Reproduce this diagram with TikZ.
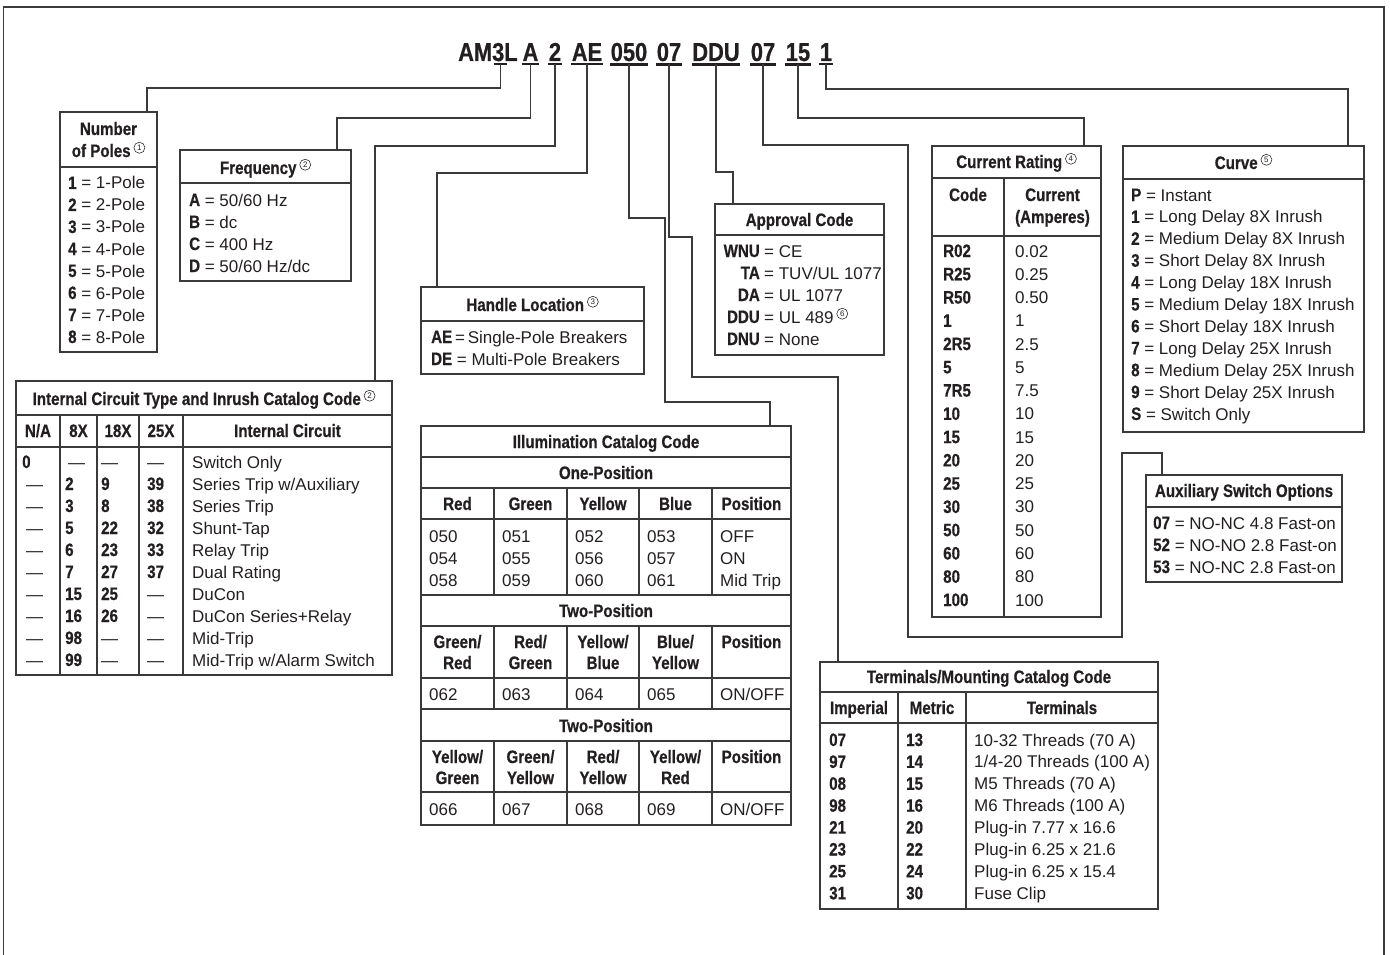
\documentclass[tikz,border=0pt]{standalone}
\usepackage{fontspec}
\setmainfont{Liberation Sans}
\newfontfamily\cf[FakeStretch=0.84,FakeBold=0.6]{Liberation Sans}
\newcommand\B[1]{{\cf\bfseries\fontsize{18}{20}\selectfont #1}}
\definecolor{ink}{HTML}{231F20}
\definecolor{lc}{HTML}{3A3A3A}
\newcommand\cn[1]{\,\tikz[x=1pt,y=1pt,baseline=-6.5pt]\node[circle,draw=ink,line width=0.55pt,inner sep=1.1pt,minimum size=11pt,text=ink,font=\rmfamily\mdseries\fontsize{8}{8}\selectfont] at (0,0) {#1};}
\tikzset{
 box/.style={draw=lc, line width=1.6pt, inner sep=0pt},
 rule/.style={draw=lc, line width=1.6pt},
 conn/.style={draw=lc, line width=1.6pt},
 uline/.style={draw=ink, line width=2.4pt},
 txt/.style={inner sep=0pt, anchor=base west, font=\fontsize{17}{20}\selectfont, text=ink},
 txtr/.style={txt, anchor=base east},
 ttl/.style={inner sep=0pt, anchor=base, font=\cf\bfseries\fontsize{18}{20}\selectfont, text=ink},
 code/.style={inner xsep=0.5pt, inner ysep=3pt, anchor=base, font=\cf\bfseries\fontsize{26}{28}\selectfont, text=ink},
}
\begin{document}
\begin{tikzpicture}[x=1pt,y=-1pt]
\useasboundingbox (0,0) rectangle (1390,955);
% frame
\draw[rule] (3.5,955) -- (3.5,7) -- (1384,7) -- (1384,955);

% ---- catalog code ----
\node[code, anchor=base west, inner sep=0pt] (cAML) at (458,61) {AM3L};
\coordinate (c3s) at (500.5,64);
\draw[uline] (494,64) -- (507,64);
\node[code] (cA) at (530.5,61) {A};
\node[code] (c2) at (555,61) {2};
\node[code] (cAE) at (587,61) {AE};
\node[code] (c050) at (629,61) {050};
\node[code] (c07a) at (669,61) {07};
\node[code] (cDDU) at (716,61) {DDU};
\node[code] (c07b) at (763,61) {07};
\node[code] (c15) at (798,61) {15};
\node[code] (c1) at (826,61) {1};
\foreach \n in {cA,c2,cAE,c050,c07a,cDDU,c07b,c15,c1}
  \draw[uline] (\n.south west) -- (\n.south east);

% ---- boxes ----
\node[box, minimum width=97pt, minimum height=240pt] (poles) at (108.5,232) {};
\node[box, minimum width=171pt, minimum height=131pt] (freq) at (265.5,215.5) {};
\node[box, minimum width=376pt, minimum height=294pt] (ict) at (204,528) {};
\node[box, minimum width=223pt, minimum height=87pt] (handle) at (532.5,330.5) {};
\node[box, minimum width=169pt, minimum height=151pt] (appr) at (799.5,279.5) {};
\node[box, minimum width=370pt, minimum height=399pt] (illum) at (606,625.5) {};
\node[box, minimum width=169pt, minimum height=471pt] (cur) at (1016.5,381.5) {};
\node[box, minimum width=241pt, minimum height=286pt] (curve) at (1243.5,289) {};
\node[box, minimum width=196pt, minimum height=107pt] (aux) at (1244,528.5) {};
\node[box, minimum width=338pt, minimum height=247pt] (term) at (989,785.5) {};

% ---- connectors ----
\coordinate (j1) at (147,88);
\coordinate (j2) at (337,118);
\coordinate (j3) at (375,146);
\coordinate (j4) at (437,173);
\coordinate (j5a) at (665,218);
\coordinate (j5b) at (770,402);
\coordinate (j6a) at (692,237);
\coordinate (j6b) at (838,377);
\coordinate (j7) at (733,172);
\coordinate (j8a) at (908,145);
\coordinate (j8b) at (1122,637);
\coordinate (j8c) at (1162,453);
\coordinate (j9) at (1084,118);
\coordinate (j10) at (1348,89);
\draw[conn] (c3s) |- (j1) -- (poles.north -| j1);
\draw[conn] (cA.south) |- (j2) -- (freq.north -| j2);
\draw[conn] (c2.south) |- (j3) -- (ict.north -| j3);
\draw[conn] (cAE.south) |- (j4) -- (handle.north -| j4);
\draw[conn] (c050.south) |- (j5a) |- (j5b) -- (illum.north -| j5b);
\draw[conn] (c07a.south) |- (j6a) |- (j6b) -- (term.north -| j6b);
\draw[conn] (cDDU.south) |- (j7) -- (appr.north -| j7);
\draw[conn] (c07b.south) |- (j8a) |- (j8b) |- (j8c) -- (aux.north -| j8c);
\draw[conn] (c15.south) |- (j9) -- (cur.north -| j9);
\draw[conn] (c1.south) |- (j10) -- (curve.north -| j10);

% ---- Number of Poles ----
\draw[rule] (60,167) -- (157,167);
\node[ttl] (npt1) at (108.5,135) {Number};
\node[ttl] (npt2) at (108.5,157) {of Poles\cn{1}};
\foreach \i in {1,...,8}
  \node[txt] (np\i) at (68,{167+22*\i}) {\B{\i} = \i-Pole};

% ---- Frequency ----
\draw[rule] (180,183) -- (351,183);
\node[ttl] (frt) at (265.5,174) {Frequency\cn{2}};
\foreach \k/\v [count=\i from 0] in {A/{50/60 Hz},B/dc,C/{400 Hz},D/{50/60 Hz/dc}}
  \node[txt] (fr\i) at (189,{206+22*\i}) {\B{\k} = \v};

% ---- Internal circuit ----
\draw[rule] (16,415) -- (392,415);
\draw[rule] (16,447) -- (392,447);
\foreach \x in {60,97,139,183} \draw[rule] (\x,415) -- (\x,675);
\node[ttl] (ictt) at (204,405) {Internal Circuit Type and Inrush Catalog Code\cn{2}};
\node[ttl] (ich1) at (38,437) {N/A};
\node[ttl] (ich2) at (78.5,437) {8X};
\node[ttl] (ich3) at (118,437) {18X};
\node[ttl] (ich4) at (161,437) {25X};
\node[ttl] (ich5) at (287.5,437) {Internal Circuit};
\node[txt] (ic0a) at (22,468) {\B{0}};
\node[txt] (ic0b) at (68,468) {—};
\node[txt] (ic0c) at (101,468) {—};
\node[txt] (ic0d) at (147,468) {—};
\node[txt] (ic0e) at (192,468) {Switch Only};
\foreach \b/\c/\d/\e [count=\i] in {
  {\B{2}}/{\B{9}}/{\B{39}}/{Series Trip w/Auxiliary},
  {\B{3}}/{\B{8}}/{\B{38}}/{Series Trip},
  {\B{5}}/{\B{22}}/{\B{32}}/{Shunt-Tap},
  {\B{6}}/{\B{23}}/{\B{33}}/{Relay Trip},
  {\B{7}}/{\B{27}}/{\B{37}}/{Dual Rating},
  {\B{15}}/{\B{25}}/—/{DuCon},
  {\B{16}}/{\B{26}}/—/{DuCon Series+Relay},
  {\B{98}}/—/—/{Mid-Trip},
  {\B{99}}/—/—/{Mid-Trip w/Alarm Switch}}{
  \node[txt] (ic\i a) at (26,{468+22*\i}) {—};
  \node[txt] (ic\i b) at (65,{468+22*\i}) {\b};
  \node[txt] (ic\i c) at (101,{468+22*\i}) {\c};
  \node[txt] (ic\i d) at (147,{468+22*\i}) {\d};
  \node[txt] (ic\i e) at (192,{468+22*\i}) {\e};
}

% ---- Handle Location ----
\draw[rule] (421,321) -- (644,321);
\node[ttl] (hlt) at (532.5,311) {Handle Location\cn{3}};
\node[txt] (hl1) at (431,343) {\B{AE}\,=\,Single-Pole Breakers};
\node[txt] (hl2) at (431,365) {\B{DE} = Multi-Pole Breakers};

% ---- Approval Code ----
\draw[rule] (715,235) -- (884,235);
\node[ttl] (apt) at (799.5,226) {Approval Code};
\foreach \k/\v [count=\i from 0] in {WNU/CE,TA/{TUV/UL 1077},DA/{UL 1077},DDU/{UL 489\cn{6}},DNU/None}{
  \node[txtr] (apk\i) at (760,{257+22*\i}) {\B{\k}};
  \node[txt] (apv\i) at (764,{257+22*\i}) {= \v};
}

% ---- Illumination ----
\foreach \y in {457,488,519,595,626,678,709,741,792} \draw[rule] (421,\y) -- (791,\y);
\foreach \x in {494,567,639,712}{
  \draw[rule] (\x,488) -- (\x,595);
  \draw[rule] (\x,626) -- (\x,709);
  \draw[rule] (\x,741) -- (\x,825);
}
\node[ttl] (ilt) at (606,448) {Illumination Catalog Code};
\node[ttl] (il1) at (606,479) {One-Position};
\foreach \h/\x [count=\i] in {Red/457.5,Green/530.5,Yellow/603,Blue/675.5,Position/751.5}
  \node[ttl] (ilh\i) at (\x,510) {\h};
\foreach \a/\b/\c/\d/\e [count=\i from 0] in {050/051/052/053/OFF,054/055/056/057/ON,058/059/060/061/{Mid Trip}}{
  \node[txt] (ila\i) at (429,{542+22*\i}) {\a};
  \node[txt] (ilb\i) at (502,{542+22*\i}) {\b};
  \node[txt] (ilc\i) at (575,{542+22*\i}) {\c};
  \node[txt] (ild\i) at (647,{542+22*\i}) {\d};
  \node[txt] (ile\i) at (720,{542+22*\i}) {\e};
}
\node[ttl] (il2) at (606,617) {Two-Position};
\foreach \h/\g/\x [count=\i] in {{Green/}/Red/457.5,{Red/}/Green/530.5,{Yellow/}/Blue/603,{Blue/}/Yellow/675.5}{
  \node[ttl] (ilp\i) at (\x,648) {\h};
  \node[ttl] (ilq\i) at (\x,669) {\g};
}
\node[ttl] (ilp5) at (751.5,648) {Position};
\foreach \v/\x [count=\i] in {062/429,063/502,064/575,065/647}
  \node[txt] (ilr\i) at (\x,700) {\v};
\node[txt] (ilr5) at (720,700) {ON/OFF};
\node[ttl] (il3) at (606,732) {Two-Position};
\foreach \h/\g/\x [count=\i] in {{Yellow/}/Green/457.5,{Green/}/Yellow/530.5,{Red/}/Yellow/603,{Yellow/}/Red/675.5}{
  \node[ttl] (ils\i) at (\x,763) {\h};
  \node[ttl] (ilt\i) at (\x,784) {\g};
}
\node[ttl] (ils5) at (751.5,763) {Position};
\foreach \v/\x [count=\i] in {066/429,067/502,068/575,069/647}
  \node[txt] (ilu\i) at (\x,815) {\v};
\node[txt] (ilu5) at (720,815) {ON/OFF};

% ---- Current Rating ----
\draw[rule] (932,178) -- (1101,178);
\draw[rule] (932,236) -- (1101,236);
\draw[rule] (1004,178) -- (1004,617);
\node[ttl] (crt) at (1016.5,168) {Current Rating\cn{4}};
\node[ttl] (crh1) at (968,201) {Code};
\node[ttl] (crh2) at (1052.5,201) {Current};
\node[ttl] (crh3) at (1052.5,223) {(Amperes)};
\foreach \k/\v [count=\i from 0] in {R02/0.02,R25/0.25,R50/0.50,1/1,2R5/2.5,5/5,7R5/7.5,10/10,15/15,20/20,25/25,30/30,50/50,60/60,80/80,100/100}{
  \node[txt] (crk\i) at (943,{257+23.27*\i}) {\B{\k}};
  \node[txt] (crv\i) at (1015,{257+23.27*\i}) {\v};
}

% ---- Curve ----
\draw[rule] (1123,179) -- (1364,179);
\node[ttl] (cvt) at (1243.5,169) {Curve\cn{5}};
\foreach \k/\v [count=\i from 0] in {P/Instant,1/Long Delay 8X Inrush,2/Medium Delay 8X Inrush,3/Short Delay 8X Inrush,4/Long Delay 18X Inrush,5/Medium Delay 18X Inrush,6/Short Delay 18X Inrush,7/Long Delay 25X Inrush,8/Medium Delay 25X Inrush,9/Short Delay 25X Inrush,S/Switch Only}
  \node[txt] (cv\i) at (1131,{201+21.9*\i}) {\B{\k} = \v};

% ---- Auxiliary ----
\draw[rule] (1146,507) -- (1342,507);
\node[ttl] (axt) at (1244,497) {Auxiliary Switch Options};
\foreach \k/\v [count=\i from 0] in {07/NO-NC 4.8 Fast-on,52/NO-NO 2.8 Fast-on,53/NO-NC 2.8 Fast-on}
  \node[txt] (ax\i) at (1153,{529+22*\i}) {\B{\k} = \v};

% ---- Terminals ----
\draw[rule] (820,692) -- (1158,692);
\draw[rule] (820,723) -- (1158,723);
\draw[rule] (898,692) -- (898,909);
\draw[rule] (966,692) -- (966,909);
\node[ttl] (tmt) at (989,683) {Terminals/Mounting Catalog Code};
\node[ttl] (tmh1) at (859,714) {Imperial};
\node[ttl] (tmh2) at (932,714) {Metric};
\node[ttl] (tmh3) at (1062,714) {Terminals};
\foreach \a/\b/\c [count=\i from 0] in {07/13/{10-32 Threads (70 A)},97/14/{1/4-20 Threads (100 A)},08/15/{M5 Threads (70 A)},98/16/{M6 Threads (100 A)},21/20/{Plug-in 7.77 x 16.6},23/22/{Plug-in 6.25 x 21.6},25/24/{Plug-in 6.25 x 15.4},31/30/{Fuse Clip}}{
  \node[txt] (tma\i) at (829,{746+21.9*\i}) {\B{\a}};
  \node[txt] (tmb\i) at (906,{746+21.9*\i}) {\B{\b}};
  \node[txt] (tmc\i) at (974,{746+21.9*\i}) {\c};
}
\end{tikzpicture}
\end{document}
